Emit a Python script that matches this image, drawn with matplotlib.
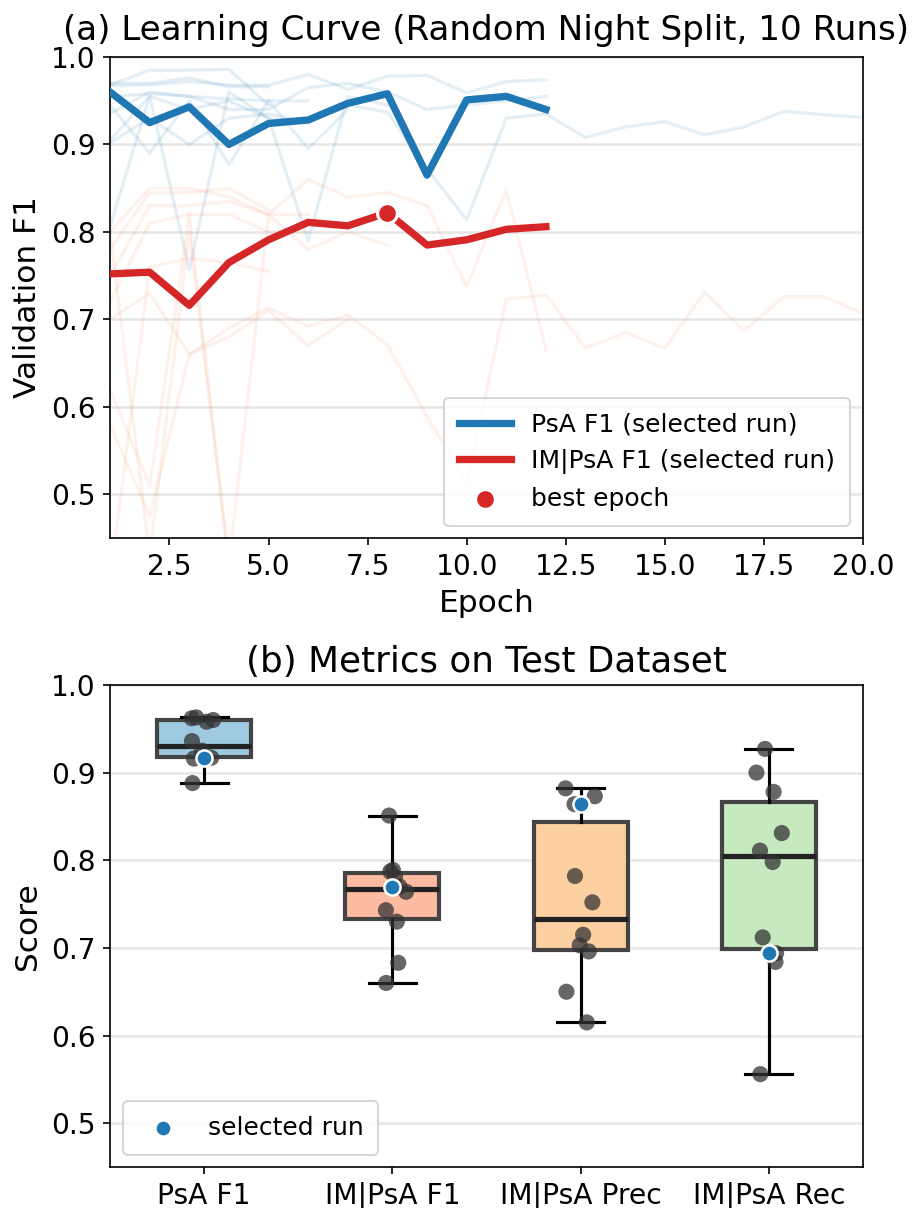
import numpy as np
import matplotlib
matplotlib.use("Agg")
import matplotlib.pyplot as plt

# ---- data: learning curves (validation F1 per epoch) ----
epochs_sel = np.arange(1, 13)
psa_sel = [0.960, 0.925, 0.943, 0.900, 0.924, 0.928, 0.947, 0.958, 0.865, 0.951, 0.955, 0.940]
im_sel = [0.752, 0.754, 0.716, 0.765, 0.791, 0.811, 0.807, 0.822, 0.785, 0.791, 0.803, 0.806]
best_epoch = 8

# other runs (faint background lines), each stops at its own epoch
psa_runs = [
    [0.905, 0.955, 0.940, 0.950, 0.930, 0.925, 0.945, 0.937, 0.872, 0.814, 0.930, 0.935,
     0.908, 0.920, 0.926, 0.911, 0.920, 0.938, 0.934, 0.931],
    [0.967, 0.968, 0.972, 0.968, 0.968, 0.980, 0.963, 0.978, 0.979, 0.959, 0.972, 0.974],
    [0.968, 0.985, 0.985, 0.986, 0.945],
    [0.970, 0.970, 0.976, 0.966, 0.966],
    [0.955, 0.958, 0.955, 0.952, 0.950, 0.950],
    [0.945, 0.890, 0.950, 0.877, 0.950, 0.895, 0.940],
    [0.806, 0.955, 0.757, 0.960, 0.930, 0.790, 0.955, 0.945],
    [0.902, 0.930, 0.900, 0.930, 0.935, 0.925, 0.945],
    [0.935, 0.960, 0.955, 0.940, 0.940, 0.965, 0.970, 0.960, 0.940, 0.945, 0.950, 0.955],
]
im_runs = [
    [0.700, 0.730, 0.660, 0.690, 0.713, 0.692, 0.705, 0.671, 0.589, 0.514, 0.723, 0.728,
     0.667, 0.685, 0.667, 0.731, 0.687, 0.726, 0.726, 0.707],
    [0.800, 0.850, 0.850, 0.840, 0.820, 0.860, 0.840, 0.845, 0.830, 0.738, 0.848, 0.665],
    [0.780, 0.845, 0.845, 0.850, 0.825],
    [0.750, 0.830, 0.830, 0.835, 0.820, 0.820],
    [0.720, 0.810, 0.820, 0.820, 0.800, 0.800],
    [0.620, 0.510, 0.820, 0.420, 0.820, 0.780, 0.800, 0.785],
    [0.580, 0.475, 0.660, 0.680, 0.710, 0.670, 0.700],
    [0.400, 0.760, 0.770, 0.765, 0.755],
    [0.800, 0.430, 0.800, 0.420, 0.380, 0.400],
]

# ---- data: test metrics over 10 runs ----
metric_names = ["PsA F1", "IM|PsA F1", "IM|PsA Prec", "IM|PsA Rec"]
psa_f1 = [0.962, 0.963, 0.960, 0.958, 0.936, 0.925, 0.918, 0.916, 0.917, 0.888]
im_f1 = [0.851, 0.789, 0.787, 0.781, 0.770, 0.764, 0.743, 0.730, 0.683, 0.660]
im_prec = [0.882, 0.873, 0.864, 0.782, 0.752, 0.715, 0.703, 0.696, 0.650, 0.615]
im_rec = [0.927, 0.900, 0.878, 0.831, 0.811, 0.798, 0.712, 0.694, 0.684, 0.556]
selected = [0.917, 0.770, 0.864, 0.694]
box_colors = ["#9ecae1", "#fcbba1", "#fdd0a2", "#c7e9c0"]

LABEL_FS = 15
TICK_FS = 13.5
LEGEND_FS = 12

fig = plt.figure(figsize=(917 / 150, 1208 / 150), dpi=150)
ax1 = fig.add_axes([0.12, 0.5546, 0.821, 0.3982])
ax2 = fig.add_axes([0.12, 0.0339, 0.821, 0.3991])

# (a) learning curves
for run in psa_runs:
    ax1.plot(np.arange(1, len(run) + 1), run, color="#1f77b4", alpha=0.12, lw=1.5)
for run in im_runs:
    ax1.plot(np.arange(1, len(run) + 1), run, color="#fc8d62", alpha=0.12, lw=1.5)
ax1.plot(epochs_sel, psa_sel, color="#1f77b4", lw=3.5, label="PsA F1 (selected run)", zorder=3)
ax1.plot(epochs_sel, im_sel, color="#d62728", lw=3.5, label="IM|PsA F1 (selected run)", zorder=3)
ax1.scatter([best_epoch], [im_sel[best_epoch - 1]], s=90, color="#d62728",
            edgecolor="white", linewidth=1.5, zorder=4, label="best epoch")
ax1.set_xlim(1, 20)
ax1.set_ylim(0.45, 1.0)
ax1.set_yticks([0.5, 0.6, 0.7, 0.8, 0.9, 1.0])
ax1.grid(axis="y", color="#e6e6e6", lw=1.2)
ax1.set_axisbelow(True)
ax1.set_xlabel("Epoch", fontsize=LABEL_FS)
ax1.set_ylabel("Validation F1", fontsize=LABEL_FS)
ax1.set_title("(a) Learning Curve (Random Night Split, 10 Runs)", fontsize=16.4, pad=8)
ax1.tick_params(labelsize=TICK_FS)
ax1.legend(loc="lower right", fontsize=LEGEND_FS, borderpad=0.6, handlelength=2.1)

# (b) test metrics
data = [psa_f1, im_f1, im_prec, im_rec]
pos = np.arange(len(metric_names))
bp = ax2.boxplot(data, positions=pos, widths=0.5, patch_artist=True, whis=1.5,
                 showfliers=False,
                 medianprops=dict(color="#222222", lw=2.5),
                 whiskerprops=dict(color="black", lw=1.5),
                 capprops=dict(color="black", lw=1.5),
                 boxprops=dict(edgecolor="#444444", lw=2))
for patch, c in zip(bp["boxes"], box_colors):
    patch.set_facecolor(c)

rng = np.random.default_rng(3)
for i, vals in enumerate(data):
    jit = rng.uniform(-0.08, 0.08, len(vals))
    ax2.scatter(pos[i] + jit, vals, s=60, color="#333333", alpha=0.75,
                edgecolor="none", zorder=3)
ax2.scatter(pos, selected, s=60, color="#1f77b4", edgecolor="white",
            linewidth=1.2, zorder=4, label="selected run")

ax2.set_xlim(-0.5, 3.5)
ax2.set_ylim(0.45, 1.0)
ax2.set_yticks([0.5, 0.6, 0.7, 0.8, 0.9, 1.0])
ax2.set_xticks(pos)
ax2.set_xticklabels(metric_names)
ax2.grid(axis="y", color="#e6e6e6", lw=1.2)
ax2.set_axisbelow(True)
ax2.set_ylabel("Score", fontsize=LABEL_FS)
ax2.set_title("(b) Metrics on Test Dataset", fontsize=17.2)
ax2.tick_params(labelsize=TICK_FS)
ax2.legend(loc="lower left", fontsize=LEGEND_FS, borderpad=0.6)

fig.savefig("out.png", dpi=150)
